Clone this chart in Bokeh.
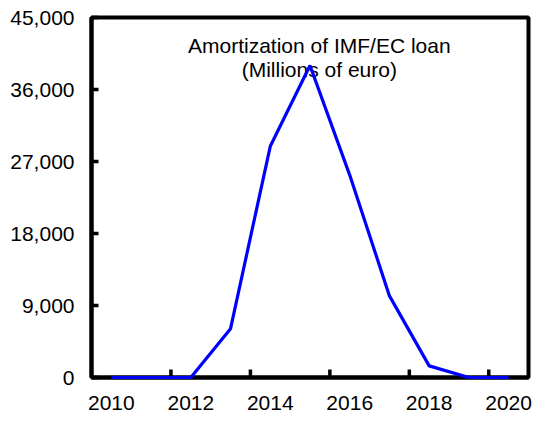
import numpy as np
from bokeh.plotting import figure
from bokeh.models import Range1d, FixedTicker, NumeralTickFormatter, Label
from bokeh.embed import file_html
from bokeh.resources import INLINE

years = [2010, 2011, 2012, 2013, 2014, 2015, 2016, 2017, 2018, 2019, 2020]
amortization = [0, 0, 0, 6100, 28900, 39000, 25300, 10200, 1450, 0, 0]
y_ticks = [0, 9000, 18000, 27000, 36000, 45000]
x_label_years = years[::2]
title_lines = ["Amortization of IMF/EC loan", "(Millions of euro)"]

FONT = "Liberation Sans"

p = figure(width=532, height=412, output_backend="svg", toolbar_location=None,
           x_range=Range1d(years[0] - 0.5, years[-1] + 0.5),
           y_range=Range1d(y_ticks[0], y_ticks[-1]),
           min_border_left=91, min_border_right=4, min_border_top=17, min_border_bottom=10)

p.xgrid.visible = False
p.ygrid.visible = False
p.outline_line_color = "black"
p.outline_line_width = 4
p.outline_line_alpha = 1.0
p.background_fill_color = "white"
p.border_fill_color = "white"

# y axis
p.yaxis.ticker = FixedTicker(ticks=y_ticks)
p.yaxis.formatter = NumeralTickFormatter(format="0,0")
p.yaxis.major_tick_in = 7
p.yaxis.major_tick_out = 0
p.yaxis.minor_tick_in = 0
p.yaxis.minor_tick_out = 0
p.yaxis.major_tick_line_width = 3.5
p.yaxis.axis_line_width = 4
p.yaxis.major_label_standoff = 17
p.yaxis.major_label_text_font = FONT
p.yaxis.major_label_text_font_size = "21px"
p.yaxis.major_label_text_color = "black"

# x axis (labels only)
p.xaxis.ticker = FixedTicker(ticks=x_label_years)
p.xaxis.major_tick_in = 0
p.xaxis.major_tick_out = 0
p.xaxis.minor_tick_in = 0
p.xaxis.minor_tick_out = 0
p.xaxis.axis_line_width = 4
p.xaxis.major_label_standoff = 18
p.xaxis.major_label_text_font = FONT
p.xaxis.major_label_text_font_size = "21px"
p.xaxis.major_label_text_color = "black"

# x tick marks sit between category pairs
tick_pos = [y + 0.5 for y in years[1:-1:2]]
p.scatter(tick_pos, [0] * len(tick_pos), marker="dash", angle=np.pi / 2, size=16,
          line_color="black", line_width=3.5)

line = p.line(years, amortization, line_color="#0000FF", line_width=3.2)
line.level = "overlay"

title_x = years[0] - 0.5 + 0.5213 * (len(years))
p.add_layout(Label(x=title_x, y=y_ticks[-1], y_offset=-28, text=title_lines[0],
                   text_align="center", text_baseline="alphabetic",
                   text_font=FONT, text_font_size="21px", text_color="black"))
p.add_layout(Label(x=title_x, y=y_ticks[-1], y_offset=-52, text=title_lines[1],
                   text_align="center", text_baseline="alphabetic",
                   text_font=FONT, text_font_size="21px", text_color="black"))

open("out.html", "w").write(file_html(p, INLINE))
